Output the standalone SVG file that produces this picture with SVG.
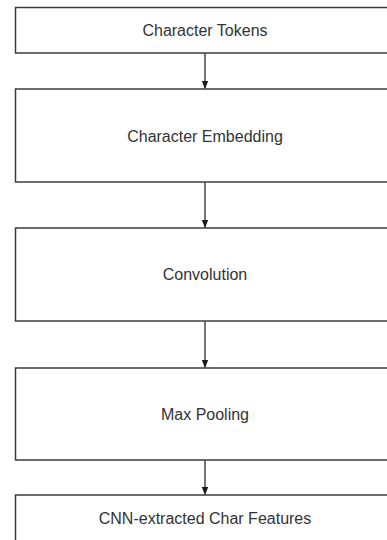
<svg xmlns="http://www.w3.org/2000/svg" width="387" height="540" viewBox="0 0 387 540">
  <style>
    .box { fill: #ffffff; stroke: #3c3c3c; stroke-width: 1.5; }
    .label { font-family: "Liberation Sans", Arial, sans-serif; font-size: 16px; fill: #333333; text-anchor: middle; }
    .edge { stroke: #1a1a1a; stroke-width: 1.2; fill: none; marker-end: url(#arrow); }
  </style>
  <defs>
    <marker id="arrow" viewBox="0 0 8 8" refX="7.5" refY="4" markerWidth="8" markerHeight="8" markerUnits="userSpaceOnUse" orient="auto">
      <path d="M0,0.8 L8,4 L0,7.2 Z" fill="#1a1a1a"/>
    </marker>
  </defs>
  <rect width="387" height="540" fill="#ffffff"/>

  <g id="connectors">
    <line class="edge" x1="205" y1="53" x2="205" y2="88.5"/>
    <line class="edge" x1="205" y1="182" x2="205" y2="227.5"/>
    <line class="edge" x1="205" y1="321" x2="205" y2="367.5"/>
    <line class="edge" x1="205" y1="460" x2="205" y2="494.5"/>
  </g>

  <g id="char-tokens">
    <rect class="box" x="15.5" y="7.5" width="380" height="45.5"/>
    <text class="label" x="205" y="36">Character Tokens</text>
  </g>
  <g id="char-embedding">
    <rect class="box" x="15.5" y="89" width="380" height="93"/>
    <text class="label" x="205" y="141.5">Character Embedding</text>
  </g>
  <g id="convolution">
    <rect class="box" x="15.5" y="228" width="380" height="93"/>
    <text class="label" x="205" y="280">Convolution</text>
  </g>
  <g id="max-pooling">
    <rect class="box" x="15.5" y="368" width="380" height="92"/>
    <text class="label" x="205" y="420">Max Pooling</text>
  </g>
  <g id="cnn-features">
    <rect class="box" x="15.5" y="495" width="380" height="60"/>
    <text class="label" x="205" y="524">CNN-extracted Char Features</text>
  </g>
</svg>
